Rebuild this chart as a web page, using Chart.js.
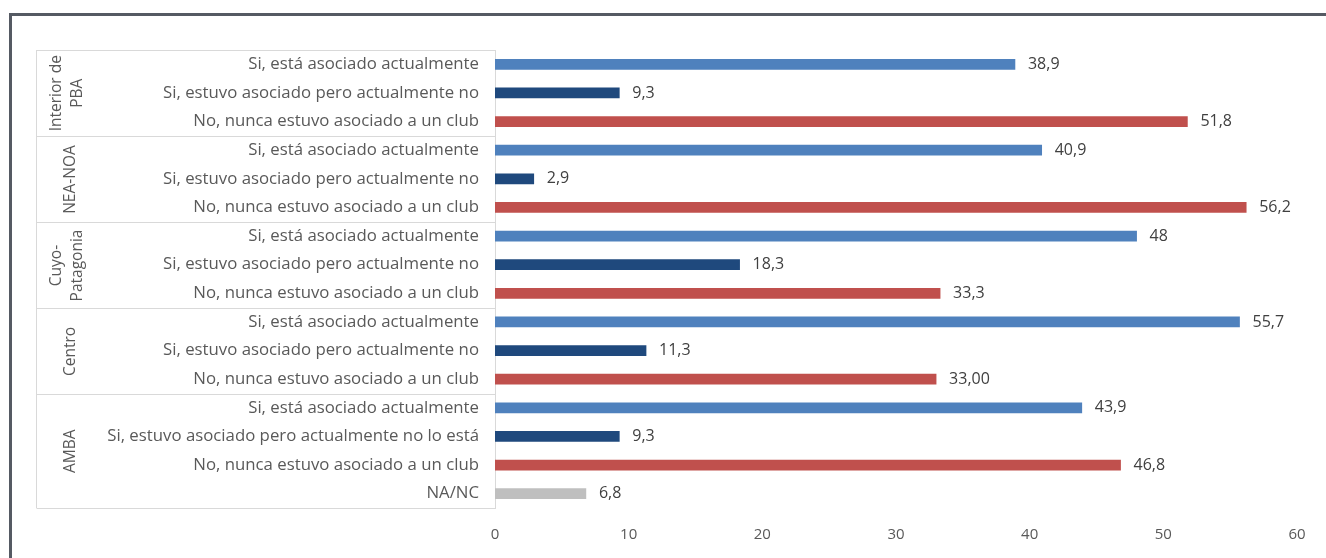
<!DOCTYPE html>
<html lang="es">
<head>
<meta charset="utf-8">
<title>Asociación a un club por región</title>
<script src="https://cdn.jsdelivr.net/npm/chart.js@4.4.1/dist/chart.umd.min.js"></script>
<style>
  html, body { margin: 0; padding: 0; background: #fff; }
  #wrap { position: relative; width: 1326px; height: 558px; overflow: hidden; }
  #frame {
    position: absolute; left: 9px; top: 13px; right: -5px; bottom: -5px;
    border-left: 3px solid #555a63; border-top: 3px solid #555a63;
  }
  canvas { position: absolute; left: 0; top: 0; }
</style>
</head>
<body>
<div id="wrap">
  <canvas id="myChart" width="1326" height="558"></canvas>
  <div id="frame"></div>
</div>
<script>
  // regions (rotated labels) and how many rows each one has
  const regions = [['Interior de', 'PBA'], ['NEA-NOA'], ['Cuyo-', 'Patagonia'], ['Centro'], ['AMBA']];
  const regionSizes = [3, 3, 3, 3, 4];

  const categories = [
    'Si, está asociado actualmente', 'Si, estuvo asociado pero actualmente no', 'No, nunca estuvo asociado a un club',
    'Si, está asociado actualmente', 'Si, estuvo asociado pero actualmente no', 'No, nunca estuvo asociado a un club',
    'Si, está asociado actualmente', 'Si, estuvo asociado pero actualmente no', 'No, nunca estuvo asociado a un club',
    'Si, está asociado actualmente', 'Si, estuvo asociado pero actualmente no', 'No, nunca estuvo asociado a un club',
    'Si, está asociado actualmente', 'Si, estuvo asociado pero actualmente no lo está', 'No, nunca estuvo asociado a un club',
    'NA/NC'
  ];
  const values = [38.9, 9.3, 51.8, 40.9, 2.9, 56.2, 48, 18.3, 33.3, 55.7, 11.3, 33.0, 43.9, 9.3, 46.8, 6.8];
  const valueText = ['38,9', '9,3', '51,8', '40,9', '2,9', '56,2', '48', '18,3', '33,3', '55,7', '11,3', '33,00', '43,9', '9,3', '46,8', '6,8'];
  const xTicks = [0, 10, 20, 30, 40, 50, 60];

  const BLUE = '#4f81bd', NAVY = '#1f497d', RED = '#c0504d', GRAY = '#bfbfbf';
  const barColors = categories.map(function (c) {
    if (c === 'NA/NC') return GRAY;
    if (c.indexOf('está asociado actualmente') >= 0) return BLUE;
    if (c.indexOf('estuvo asociado pero') >= 0) return NAVY;
    return RED;
  });

  const FONT = '"Open Sans", "Noto Sans", sans-serif';
  const LINE = '#d9d9d9';

  const extras = {
    id: 'extras',
    afterDraw(chart) {
      const ctx = chart.ctx;
      const y = chart.scales.y;
      const area = chart.chartArea;
      const left = 36.5;
      ctx.save();

      // label table lines
      ctx.strokeStyle = LINE;
      ctx.lineWidth = 1;
      ctx.beginPath();
      ctx.moveTo(left, area.top + 0.5); ctx.lineTo(area.left, area.top + 0.5);
      ctx.moveTo(left, area.bottom + 0.5); ctx.lineTo(area.left, area.bottom + 0.5);
      ctx.moveTo(left, area.top); ctx.lineTo(left, area.bottom);
      let idx = 0;
      const bounds = [area.top];
      regionSizes.forEach(function (n) {
        idx += n;
        if (idx < categories.length) {
          const b = Math.round((y.getPixelForValue(idx - 1) + y.getPixelForValue(idx)) / 2) + 0.5;
          ctx.moveTo(left, b); ctx.lineTo(area.left, b);
          bounds.push(b);
        }
      });
      bounds.push(area.bottom);
      ctx.stroke();

      // rotated region labels
      ctx.fillStyle = '#595959';
      ctx.font = '15.5px ' + FONT;
      ctx.textAlign = 'center';
      ctx.textBaseline = 'middle';
      regions.forEach(function (lines, g) {
        const cy = (bounds[g] + bounds[g + 1]) / 2;
        const cx = lines.length > 1 ? 67 : 71;
        ctx.save();
        ctx.translate(cx, cy);
        ctx.rotate(-Math.PI / 2);
        lines.forEach(function (t, i) {
          ctx.fillText(t, 0, (i - (lines.length - 1) / 2) * 21);
        });
        ctx.restore();
      });

      // value labels
      const meta = chart.getDatasetMeta(0);
      ctx.fillStyle = '#404040';
      ctx.font = '16px ' + FONT;
      ctx.textAlign = 'left';
      meta.data.forEach(function (bar, i) {
        ctx.fillText(valueText[i], bar.x + 13, bar.y);
      });
      ctx.restore();
    }
  };

  new Chart(document.getElementById('myChart'), {
    type: 'bar',
    data: {
      labels: categories,
      datasets: [{
        data: values,
        backgroundColor: barColors,
        barThickness: 10
      }]
    },
    options: {
      indexAxis: 'y',
      responsive: false,
      animation: false,
      layout: { padding: { top: 50, right: 29, bottom: 0, left: 0 } },
      plugins: { legend: { display: false }, tooltip: { enabled: false } },
      scales: {
        x: {
          min: 0, max: 60,
          afterBuildTicks: function (s) { s.ticks = xTicks.map(function (v) { return { value: v }; }); },
          afterFit: function (s) { s.height = 50; },
          grid: { display: false, drawTicks: false },
          border: { display: false },
          ticks: { color: '#595959', font: { family: FONT, size: 15 }, padding: 18 }
        },
        y: {
          afterFit: function (s) { s.width = 495; },
          grid: { display: false, drawTicks: false },
          border: { display: true, color: LINE },
          ticks: { color: '#595959', font: { family: FONT, size: 16.8 }, padding: 16, autoSkip: false }
        }
      }
    },
    plugins: [extras]
  });
</script>
</body>
</html>
